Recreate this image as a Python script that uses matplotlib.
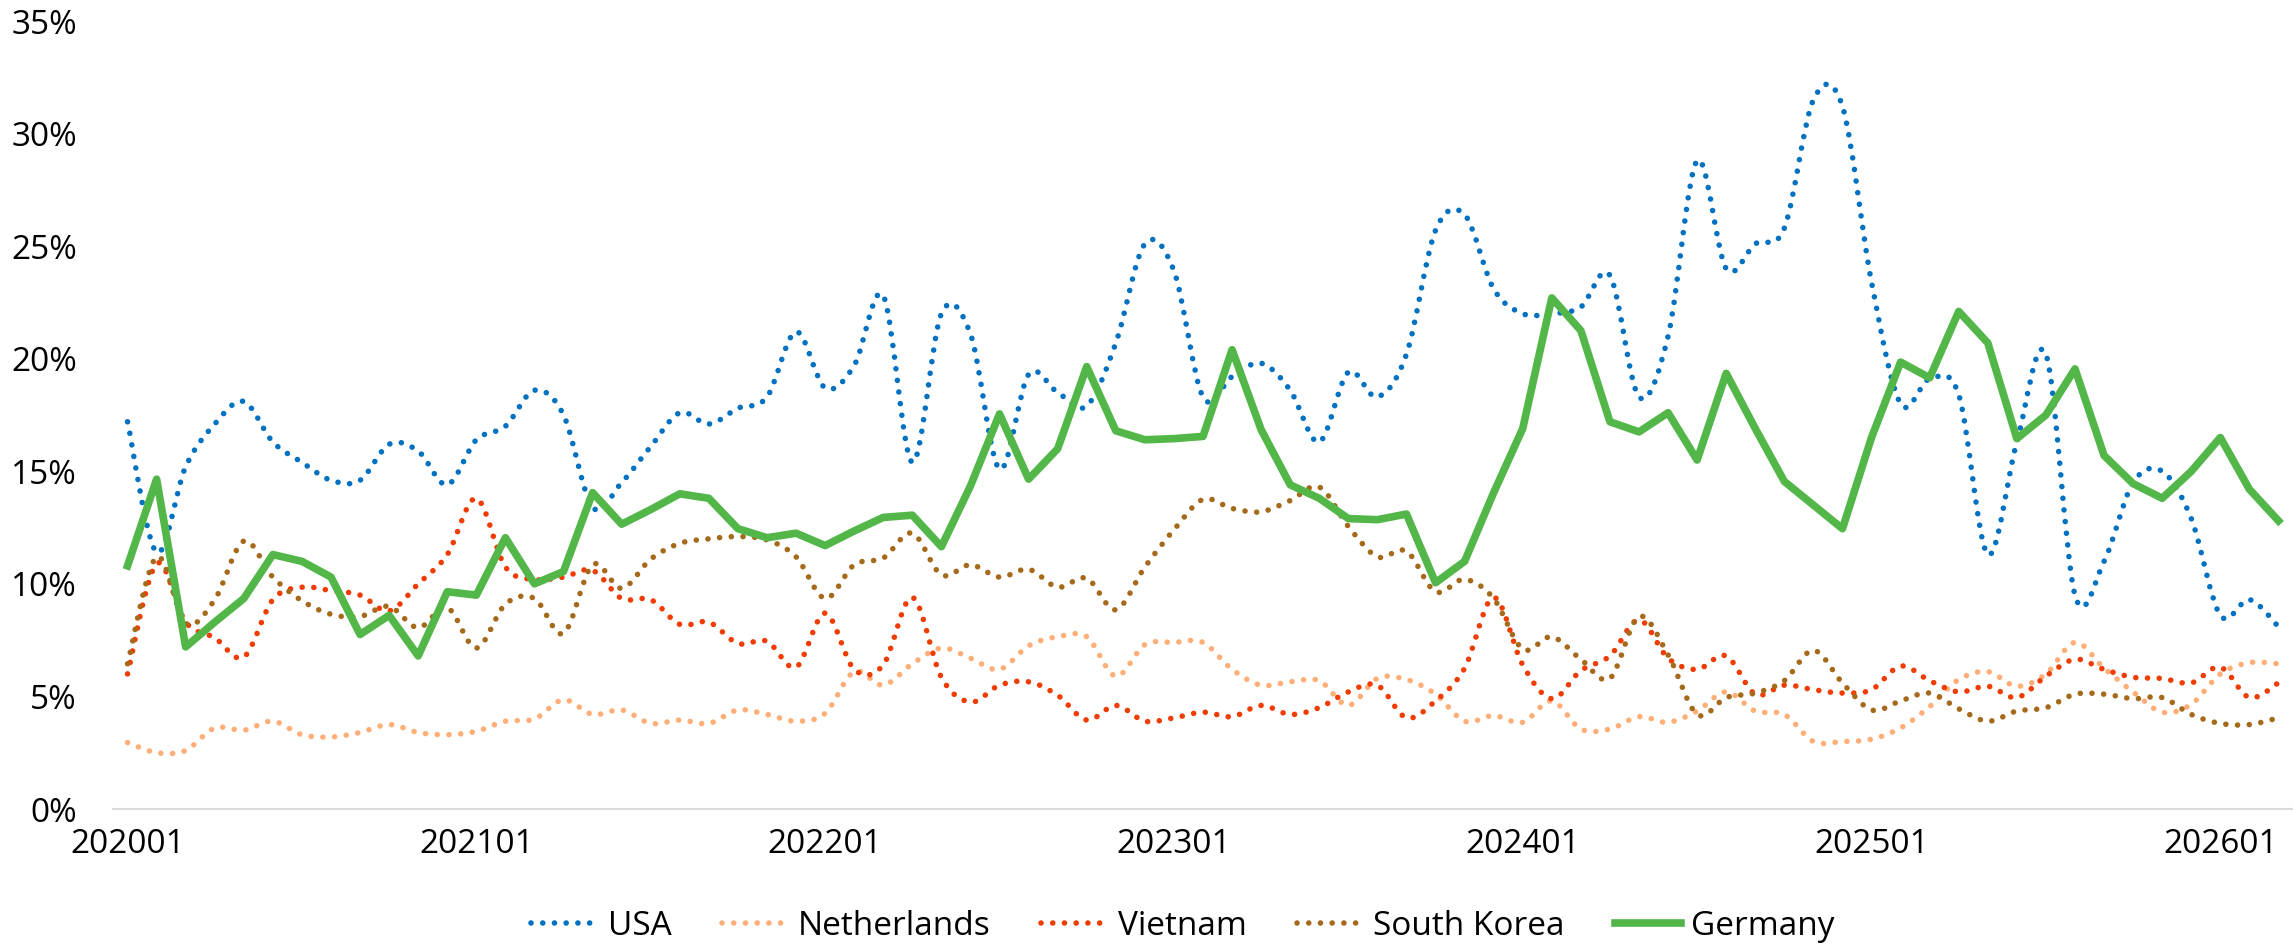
import matplotlib
matplotlib.use('Agg')
import matplotlib.pyplot as plt
from matplotlib.path import Path
from matplotlib.patches import PathPatch
from matplotlib.lines import Line2D

plt.rcParams['font.family'] = ['Open Sans', 'DejaVu Sans']

# monthly categories 202001 .. 202603
months = [f'{y}{m:02d}' for y in range(2020, 2027) for m in range(1, 13)][:75]
tick_labels = ['202001', '202101', '202201', '202301', '202401', '202501', '202601']

# shares in %
usa = [17.2, 11.4, 15.2, 17.1, 18.1, 16.3, 15.4, 14.6, 14.6, 16.2, 15.9, 14.4,
       16.4, 17.0, 18.6, 17.5, 13.4, 14.5, 16.1, 17.6, 17.1, 17.8, 18.3, 21.2,
       18.7, 19.7, 22.8, 15.4, 22.0, 21.1, 15.1, 19.3, 18.5, 17.9, 20.7, 25.1,
       23.9, 18.3, 19.2, 19.8, 18.6, 16.3, 19.4, 18.3, 20.2, 25.7, 26.4, 23.1,
       22.0, 22.0, 22.3, 23.7, 18.3, 21.0, 28.8, 24.0, 25.1, 25.8, 31.5, 31.2,
       23.4, 18.0, 19.1, 18.4, 11.3, 16.3, 20.2, 9.5, 11.0, 14.5, 15.0, 12.9,
       8.6, 9.3, 8.1]
netherlands = [2.95, 2.5, 2.6, 3.6, 3.5, 3.9, 3.3, 3.2, 3.4, 3.75, 3.4, 3.3,
               3.45, 3.9, 4.0, 4.85, 4.2, 4.4, 3.8, 3.95, 3.8, 4.4, 4.2, 3.9,
               4.25, 6.1, 5.5, 6.45, 7.15, 6.7, 6.2, 7.25, 7.65, 7.65, 5.9, 7.3,
               7.4, 7.4, 6.2, 5.5, 5.65, 5.7, 4.6, 5.8, 5.75, 5.1, 3.9, 4.15,
               3.85, 4.8, 3.55, 3.55, 4.1, 3.85, 4.35, 5.2, 4.35, 4.2, 3.0, 3.0,
               3.1, 3.6, 4.55, 5.75, 6.1, 5.45, 6.0, 7.4, 6.25, 5.2, 4.3, 4.65,
               6.0, 6.5, 6.45]
vietnam = [6.0, 10.9, 8.3, 7.6, 6.75, 9.3, 9.85, 9.7, 9.5, 8.8, 10.0, 11.3,
           13.8, 10.75, 10.2, 10.3, 10.6, 9.35, 9.3, 8.2, 8.3, 7.35, 7.45, 6.3,
           8.7, 6.2, 6.4, 9.4, 5.85, 4.75, 5.5, 5.65, 5.05, 3.95, 4.6, 3.9,
           4.05, 4.3, 4.1, 4.6, 4.2, 4.5, 5.2, 5.5, 4.05, 4.8, 6.25, 9.4,
           6.4, 4.9, 6.15, 6.8, 8.4, 6.7, 6.2, 6.8, 5.1, 5.5, 5.3, 5.15,
           5.3, 6.35, 5.7, 5.2, 5.45, 4.95, 5.9, 6.65, 6.2, 5.85, 5.8, 5.6,
           6.3, 4.95, 5.6]
south_korea = [6.45, 11.2, 8.25, 9.3, 11.9, 10.3, 9.25, 8.65, 8.55, 9.0, 8.05, 8.95,
               7.15, 9.1, 9.35, 7.8, 10.85, 9.8, 11.1, 11.8, 12.0, 12.1, 11.95, 11.2,
               9.35, 10.85, 11.15, 12.25, 10.4, 10.85, 10.3, 10.65, 9.85, 10.25, 8.85, 10.75,
               12.4, 13.75, 13.35, 13.2, 13.7, 14.3, 12.55, 11.2, 11.45, 9.65, 10.2, 9.35,
               7.1, 7.65, 6.65, 5.8, 8.55, 6.85, 4.2, 4.95, 5.15, 5.7, 7.05, 5.6,
               4.4, 4.8, 5.15, 4.45, 3.9, 4.35, 4.5, 5.1, 5.1, 4.9, 4.95, 4.2,
               3.8, 3.75, 4.05]
germany = [10.8, 14.65, 7.2, 8.3, 9.35, 11.3, 11.0, 10.3, 7.75, 8.6, 6.8, 9.65,
           9.5, 12.05, 10.0, 10.55, 14.05, 12.65, 13.3, 14.0, 13.8, 12.45, 12.05, 12.25,
           11.7, 12.35, 12.95, 13.05, 11.65, 14.35, 17.55, 14.65, 16.0, 19.65, 16.8, 16.4,
           16.45, 16.55, 20.4, 16.85, 14.4, 13.8, 12.9, 12.85, 13.1, 10.05, 11.0, 14.05,
           16.9, 22.7, 21.25, 17.2, 16.75, 17.6, 15.5, 19.35, 16.9, 14.55, 13.5, 12.45,
           16.5, 19.85, 19.15, 22.1, 20.7, 16.45, 17.5, 19.55, 15.7, 14.45, 13.8, 15.0,
           16.5, 14.2, 12.8]

names = ['USA', 'Netherlands', 'Vietnam', 'South Korea', 'Germany']
colors = ['#0070C0', '#FFAE78', '#F03C00', '#A5691A', '#52B748']

W, H = 2293, 946
fig = plt.figure(figsize=(W / 100, H / 100), dpi=100)
fig.patch.set_facecolor('white')
ax = fig.add_axes([113 / W, 1 - 809 / H, 2180 / W, 788 / H])

x = list(range(len(months)))
dots = (0, (0.01, 2.1))


def smooth_path(xs, ys):
    # Excel-like smoothed line: cubic bezier through every point
    n = len(xs)
    verts = [(xs[0], ys[0])]
    codes = [Path.MOVETO]
    for i in range(n - 1):
        a, b = max(i - 1, 0), min(i + 2, n - 1)
        verts += [(xs[i] + (xs[i + 1] - xs[a]) / 6, ys[i] + (ys[i + 1] - ys[a]) / 6),
                  (xs[i + 1] - (xs[b] - xs[i]) / 6, ys[i + 1] - (ys[b] - ys[i]) / 6),
                  (xs[i + 1], ys[i + 1])]
        codes += [Path.CURVE4] * 3
    return Path(verts, codes)


handles = []
for vals, name, c in zip([usa, netherlands, vietnam, south_korea], names[:4], colors[:4]):
    ax.add_patch(PathPatch(smooth_path(x, vals), fill=False, edgecolor=c, lw=4.0,
                           linestyle=dots, capstyle='round', zorder=2))
    handles.append(Line2D([], [], color=c, lw=4.0, linestyle=dots, dash_capstyle='round'))

ax.plot(x, germany, color=colors[4], lw=5.5, solid_joinstyle='round', zorder=3)
handles.append(Line2D([], [], color=colors[4], lw=5.5))

ax.set_xlim(-0.5, len(months) - 0.5)
ax.set_ylim(0, 35)
ax.set_yticks(range(0, 36, 5))
ax.set_yticklabels([f'{v}%' for v in range(0, 36, 5)])
ax.set_xticks([months.index(t) for t in tick_labels])
ax.set_xticklabels(tick_labels)
ax.tick_params(axis='y', length=0, pad=26, labelsize=24, colors='black')
ax.tick_params(axis='x', length=0, pad=14, labelsize=24, colors='black')

for s in ['top', 'right', 'left']:
    ax.spines[s].set_visible(False)
ax.spines['bottom'].set_color('#D9D9D9')
ax.spines['bottom'].set_linewidth(1.5)

fig.legend(handles, names, loc='center', bbox_to_anchor=(1183 / W, 1 - 926 / H),
           ncol=5, frameon=False, fontsize=24, handlelength=2.0,
           handletextpad=0.3, columnspacing=1.5)

fig.savefig('out.png', dpi=100, facecolor='white')
